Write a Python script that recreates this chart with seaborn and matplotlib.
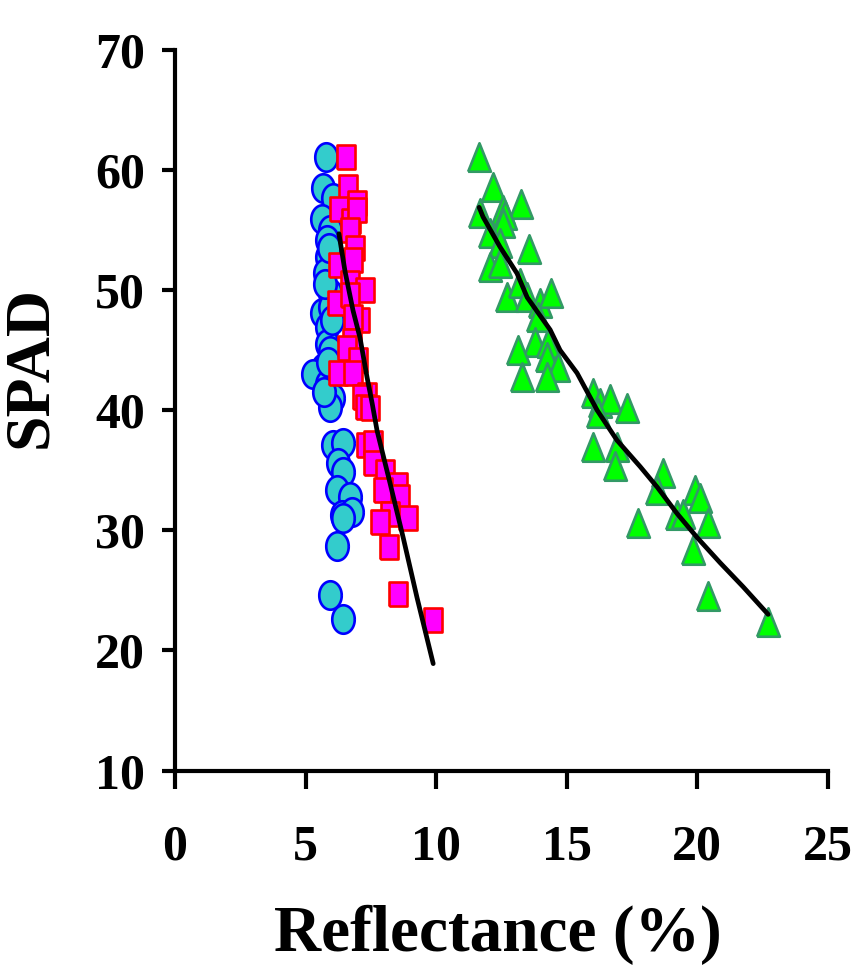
import numpy as np
import pandas as pd
import matplotlib
matplotlib.use("Agg")
import matplotlib.pyplot as plt
import seaborn as sns

# ---- data ----
blue_x = [5.79, 5.67, 6.05, 5.63, 5.94, 5.82, 5.82, 5.75, 5.94, 5.63, 5.94, 5.82,
          5.82, 5.94, 5.67, 5.29, 5.82, 6.05, 5.94, 6.05, 6.44, 6.25, 6.44, 6.21,
          6.70, 6.40, 6.78, 6.44, 6.21, 5.94, 6.44, 5.90, 5.75, 6.00, 5.85, 5.70]
blue_y = [61.1, 58.5, 57.7, 55.9, 55.0, 54.2, 52.8, 51.4, 49.8, 48.1, 48.6, 46.9,
          45.5, 44.9, 43.5, 43.0, 42.2, 41.0, 40.3, 37.1, 37.3, 35.6, 34.9, 33.4,
          32.8, 31.3, 31.5, 31.0, 28.7, 24.6, 22.6, 53.5, 50.5, 47.5, 44.0, 41.5]

pink_x = [6.55, 6.63, 6.97, 6.28, 6.74, 6.97, 6.70, 6.90, 6.25, 6.82, 6.70, 7.28,
          6.21, 6.70, 7.09, 6.82, 6.78, 6.59, 7.01, 6.25, 6.82, 7.36, 7.16, 7.28,
          7.47, 7.32, 7.59, 7.59, 8.05, 8.54, 7.97, 8.62, 8.24, 8.93, 7.85, 8.20,
          8.54, 9.89]
pink_y = [61.1, 58.6, 57.3, 56.8, 55.8, 56.7, 55.0, 53.5, 52.1, 52.5, 50.6, 50.0,
          48.9, 49.6, 47.5, 47.8, 45.8, 45.2, 44.2, 43.1, 43.1, 41.3, 41.1, 40.3,
          40.2, 37.1, 37.3, 35.6, 34.9, 33.8, 33.4, 32.8, 31.4, 31.0, 30.7, 28.6,
          24.7, 22.5]

green_x = [11.65, 12.18, 11.69, 13.26, 12.57, 12.64, 12.57, 12.07, 13.56, 12.45,
           12.07, 12.45, 12.72, 13.22, 13.49, 13.98, 14.41, 13.91, 13.79, 13.14,
           14.29, 14.25, 14.67, 13.30, 14.25, 16.02, 16.28, 16.67, 17.32, 16.21,
           16.02, 16.93, 16.86, 18.70, 18.47, 17.74, 19.23, 19.46, 19.92, 20.11,
           20.42, 19.85, 20.42, 22.72]
green_y = [61.1, 58.6, 56.4, 57.2, 56.7, 56.3, 55.6, 54.8, 53.4, 53.9,
           51.9, 52.3, 49.4, 50.6, 49.4, 48.9, 49.8, 47.8, 45.7, 45.0,
           45.6, 44.4, 43.6, 42.8, 42.8, 41.4, 40.6, 40.9, 40.2, 39.8,
           36.9, 36.9, 35.4, 34.8, 33.4, 30.6, 31.3, 31.4, 33.4, 32.7,
           30.6, 28.4, 24.5, 22.4]

# fitted curves
pink_fit_x = [6.28, 6.51, 6.82, 7.09, 7.36, 7.55, 7.74, 8.24, 8.74, 9.27, 9.89]
pink_fit_y = [54.7, 51.6, 48.3, 46.0, 42.7, 40.6, 38.3, 33.9, 29.4, 24.4, 18.9]

green_fit_x = [11.65, 11.80, 12.45, 13.10, 13.49, 14.37, 14.75, 15.40, 16.17,
               16.93, 17.82, 18.47, 19.23, 20.00, 20.88, 21.76, 22.72]
green_fit_y = [56.9, 56.1, 53.6, 51.4, 49.4, 46.7, 45.0, 43.1, 40.0,
               37.5, 35.3, 33.6, 31.4, 29.4, 27.3, 25.3, 23.0]

x_ticks = [0, 5, 10, 15, 20, 25]
y_ticks = [10, 20, 30, 40, 50, 60, 70]

# ---- style ----
sns.set_theme(style="white")
plt.rcParams["font.family"] = ["Liberation Serif", "DejaVu Serif"]
plt.rcParams["font.weight"] = "bold"
plt.rcParams["text.color"] = "black"
plt.rcParams["axes.labelcolor"] = "black"
plt.rcParams["xtick.color"] = "black"
plt.rcParams["ytick.color"] = "black"

fig = plt.figure(figsize=(8.57, 9.73), dpi=100)
ax = fig.add_axes([0.2042, 0.2081, 0.7616, 0.7405])

# vertically stretched markers (reference is stretched)
t = np.linspace(0, 2 * np.pi, 60)
ellipse = np.column_stack([0.79 * np.cos(t), np.sin(t)])
square = np.array([[-0.78, -1], [0.78, -1], [0.78, 1], [-0.78, 1], [-0.78, -1]])
triangle = np.array([[-0.8, -1], [0.8, -1], [0, 1], [-0.8, -1]])

blue = pd.DataFrame({"x": blue_x, "y": blue_y})
pink = pd.DataFrame({"x": pink_x, "y": pink_y})
green = pd.DataFrame({"x": green_x, "y": green_y})

sns.scatterplot(data=blue, x="x", y="y", ax=ax, marker=ellipse, s=20.5 ** 2,
                color="#33CCCC", edgecolor="#0000FF", linewidth=1.9, zorder=3)
sns.scatterplot(data=pink, x="x", y="y", ax=ax, marker=square, s=17 ** 2,
                color="#FF00FF", edgecolor="#FF0000", linewidth=1.9, zorder=4)
sns.scatterplot(data=green, x="x", y="y", ax=ax, marker=triangle, s=20.5 ** 2,
                color="#00FF00", edgecolor="#339966", linewidth=1.9, zorder=3)

sns.lineplot(x=pink_fit_x, y=pink_fit_y, ax=ax, color="black", linewidth=3.4,
             sort=False, estimator=None, zorder=5)
sns.lineplot(x=green_fit_x, y=green_fit_y, ax=ax, color="black", linewidth=3.4,
             sort=False, estimator=None, zorder=5)

ax.set_xlim(0, 25)
ax.set_ylim(10, 70)
ax.set_xticks(x_ticks)
ax.set_yticks(y_ticks)
ax.set_xticklabels([str(v) for v in x_ticks])
ax.set_yticklabels([str(v) for v in y_ticks])

for side in ["top", "right"]:
    ax.spines[side].set_visible(False)
for side in ["left", "bottom"]:
    ax.spines[side].set_linewidth(3.0)
    ax.spines[side].set_color("black")

ax.tick_params(axis="y", direction="out", length=9.5, width=3.0, color="black",
               labelsize=36, pad=12, left=True, labelcolor="black")
ax.tick_params(axis="x", direction="out", length=13, width=3.0, color="black",
               labelsize=36, pad=26, bottom=True, labelcolor="black")
for lab in ax.get_xticklabels() + ax.get_yticklabels():
    lab.set_fontweight("bold")

ax.set_xlabel("Reflectance (%)", fontsize=47, fontweight="bold", color="black")
ax.set_ylabel("SPAD", fontsize=46, fontweight="bold", color="black")
ax.xaxis.set_label_coords(0.495, -0.186)
ax.yaxis.set_label_coords(-0.176, 0.56)

ax.grid(False)
fig.savefig("out.png", dpi=100)
